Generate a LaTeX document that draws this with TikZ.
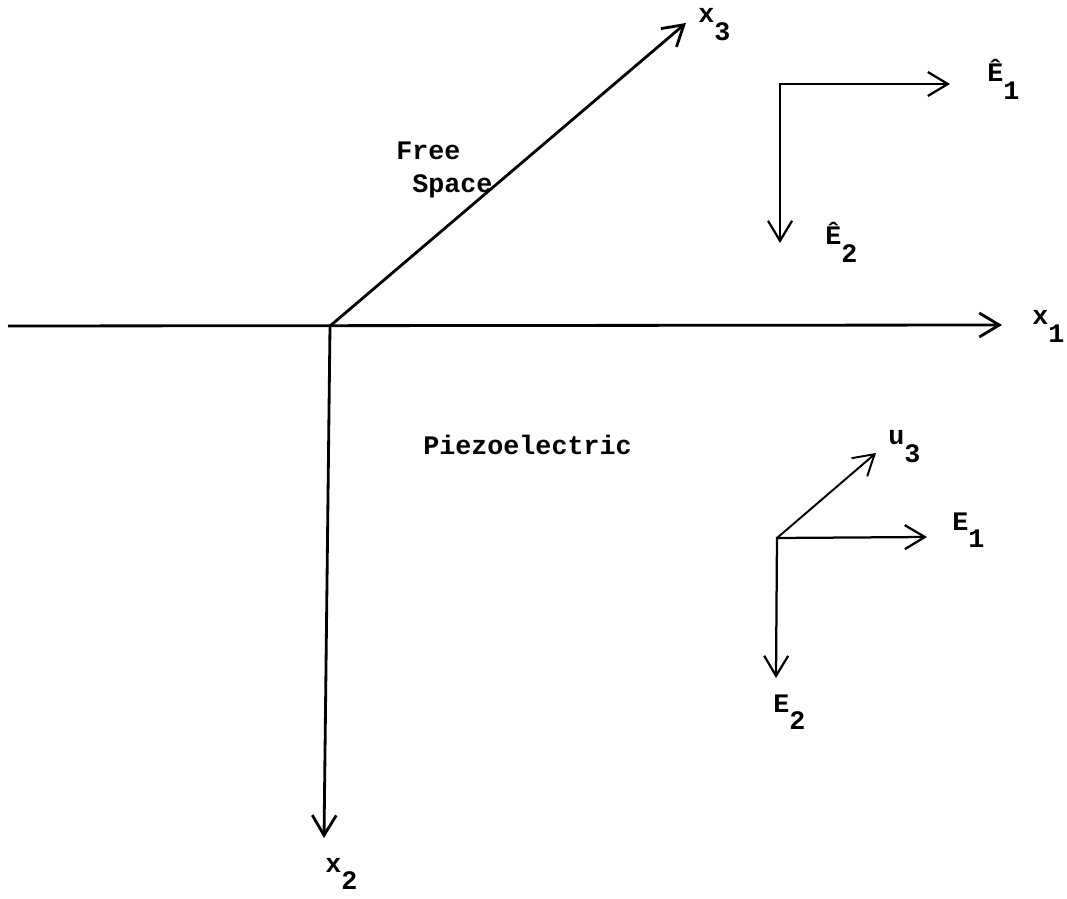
\documentclass[tikz,border=0pt]{standalone}
\usepackage{fontspec}
\setmonofont{Liberation Mono}
\usetikzlibrary{arrows.meta}
\newcommand\lo[1]{\raisebox{-0.65em}{#1}}
\tikzset{
  ar/.style ={-{Straight Barb[length=5mm,width=6mm]},line width=1.7pt},
  dar/.style={{Straight Barb[length=5mm,width=6mm]}-{Straight Barb[length=5mm,width=6mm]},
              line width=1.6pt},
  lbl/.style={font=\fontsize{19}{23.5}\selectfont\ttfamily\bfseries,
              inner sep=0pt,anchor=base west,align=left},
}
\begin{document}
\begin{tikzpicture}[x=0.025cm,y=-0.025cm]
  \useasboundingbox (0,0) rectangle (1067,899);
  % axes
  \coordinate (O)   at (330,326);
  \coordinate (x1w) at (8,326);
  \coordinate (x1e) at (1002,325);
  \coordinate (x2s) at (324,838);
  \coordinate (x3n) at (686,23);
  \draw[ar,line width=2pt] (x1w) -- (x1e);
  \draw[ar,line width=2pt] (O) -- (x2s);
  \draw[ar,line width=2pt] (O) -- (x3n);
  \node[lbl] (x1) at (1032,325) {x\lo{1}};
  \node[lbl] (x2) at (325,872) {x\lo{2}};
  \node[lbl] (x3) at (698,23)  {x\lo{3}};
  % regions
  \node[lbl] (fs) at (396,193) {Free\\\hphantom{x}Space};
  \node[lbl] (pz) at (423,455) {Piezoelectric};
  % free space field
  \coordinate (Hc)  at (780,84);
  \coordinate (He1) at (950,84);
  \coordinate (He2) at (780,243);
  \draw[dar] (He2) -- (Hc) -- (He1);
  \node[lbl] (Eh1) at (987,82)  {\^E\lo{1}};
  \node[lbl] (Eh2) at (825,245) {\^E\lo{2}};
  % piezoelectric field
  \coordinate (Pc)  at (777,538);
  \coordinate (Pe1) at (927,537);
  \coordinate (Pe2) at (776,678);
  \coordinate (Pu3) at (876,453);
  \draw[dar] (Pe2) -- (Pc) -- (Pe1);
  \draw[ar,line width=1.4pt] (Pc) -- (Pu3);
  \node[lbl] (E1) at (952,530) {E\lo{1}};
  \node[lbl] (E2) at (773,712) {E\lo{2}};
  \node[lbl] (u3) at (888,445) {u\lo{3}};
\end{tikzpicture}
\end{document}
